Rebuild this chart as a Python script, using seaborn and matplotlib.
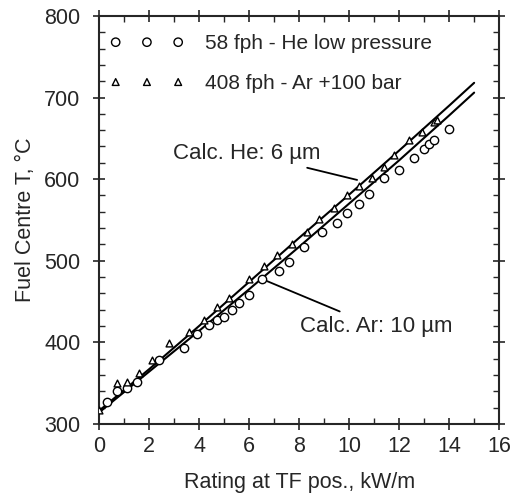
import matplotlib
matplotlib.use("Agg")
import matplotlib.pyplot as plt
from matplotlib.ticker import MultipleLocator
import seaborn as sns
import pandas as pd

# measured points, 58 fph - He low pressure
he_x = [0.3, 0.7, 1.1, 1.5, 2.4, 3.4, 3.9, 4.4, 4.7, 5.0, 5.3, 5.6, 6.0, 6.5, 7.2,
        7.6, 8.2, 8.9, 9.5, 9.9, 10.4, 10.8, 11.4, 12.0, 12.6, 13.0, 13.2, 13.4, 14.0]
he_t = [327, 340, 344, 352, 378, 393, 410, 421, 427, 431, 440, 448, 458, 478, 487,
        499, 517, 535, 546, 559, 570, 582, 601, 611, 626, 637, 643, 648, 661]

# measured points, 408 fph - Ar +100 bar
ar_x = [0.0, 0.7, 1.1, 1.6, 2.1, 2.8, 3.6, 4.2, 4.7, 5.2, 6.0, 6.6, 7.1, 7.7,
        8.3, 8.8, 9.4, 9.9, 10.4, 10.9, 11.4, 11.8, 12.4, 12.9, 13.4, 13.5]
ar_t = [317, 350, 351, 363, 378, 399, 413, 427, 443, 454, 477, 494, 507, 521,
        535, 551, 564, 580, 592, 601, 615, 630, 648, 658, 670, 673]

# calculated curves
calc_x = [0, 2, 4, 6, 8, 10, 12, 14, 15]
calc_he = [316, 367, 420, 474, 528, 581, 635, 690, 718]
calc_ar = [314, 364, 414, 465, 517, 570, 623, 678, 706]

sns.set_style("ticks")
plt.rcParams['font.family'] = ['Liberation Sans', 'DejaVu Sans']

fig = plt.figure(figsize=(5.13, 4.97), dpi=100)
ax = fig.add_axes([0.193, 0.147, 0.78, 0.821])

calc = pd.DataFrame({"x": calc_x + calc_x,
                     "T": calc_he + calc_ar,
                     "c": ["He"] * len(calc_x) + ["Ar"] * len(calc_x)})
sns.lineplot(data=calc, x="x", y="T", units="c", estimator=None,
             color="black", lw=1.5, ax=ax, legend=False)

sns.scatterplot(x=he_x, y=he_t, marker="o", s=36, facecolor="white",
                edgecolor="black", linewidth=1.0, ax=ax, zorder=3,
                label="58 fph - He low pressure")
sns.scatterplot(x=ar_x, y=ar_t, marker="^", s=24, facecolor="white",
                edgecolor="black", linewidth=1.0, ax=ax, zorder=3,
                label="408 fph - Ar +100 bar")

ax.set_xlim(0, 16)
ax.set_ylim(300, 800)
ax.xaxis.set_major_locator(MultipleLocator(2))
ax.xaxis.set_minor_locator(MultipleLocator(1))
ax.yaxis.set_major_locator(MultipleLocator(100))
ax.yaxis.set_minor_locator(MultipleLocator(20))
ax.tick_params(which="major", direction="inout", length=9, width=1.2,
               top=True, right=True, labelsize=15.5, pad=4)
ax.tick_params(axis="y", which="major", pad=9)
ax.tick_params(which="minor", direction="in", length=4, width=1,
               top=True, right=True)
for s in ax.spines.values():
    s.set_linewidth(1.5)

ax.set_xlabel("Rating at TF pos., kW/m", fontsize=15.5, labelpad=11)
ax.set_ylabel("Fuel Centre T, °C", fontsize=15.5, labelpad=6)

ax.annotate("Calc. He: 6 µm", xy=(10.32, 599), xytext=(8.85, 632),
            ha="right", va="center", fontsize=16,
            arrowprops=dict(arrowstyle="-", color="black", lw=1.3,
                            shrinkA=3, shrinkB=0))
ax.annotate("Calc. Ar: 10 µm", xy=(6.72, 475), xytext=(8.05, 419),
            ha="left", va="center", fontsize=16,
            arrowprops=dict(arrowstyle="-", color="black", lw=1.3,
                            shrinkA=3, shrinkB=0))

ax.legend(loc="upper left", bbox_to_anchor=(0.0, 0.98), frameon=False,
          numpoints=3, scatterpoints=3, scatteryoffsets=[0.5],
          handlelength=3.6, handletextpad=1.0,
          labelspacing=1.0, fontsize=15, borderaxespad=0.1)

fig.savefig("out.png", dpi=100)
